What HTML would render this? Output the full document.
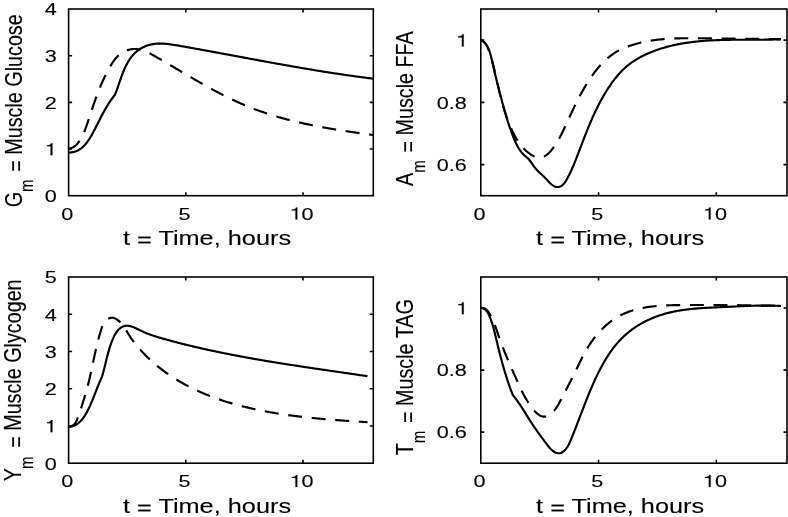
<!DOCTYPE html><html><head><meta charset="utf-8"><style>html,body{margin:0;padding:0;background:#fff;}svg{display:block;will-change:transform;}text{font-family:"Liberation Sans",sans-serif;fill:#000;stroke:#000;stroke-width:0.12px;stroke-linejoin:round;} text.tk{stroke-width:0.12px;}</style></head><body>
<svg width="788" height="517" viewBox="0 0 788 517">
<rect width="788" height="517" fill="#fff"/>
<clipPath id="c0"><rect x="68.60" y="7.00" width="304.70" height="190.70"/></clipPath>
<g clip-path="url(#c0)" fill="none" stroke="#000" stroke-width="2.15" stroke-linejoin="round">
<path d="M68.60,148.60 L69.45,148.46 L70.25,148.28 L71.03,148.06 L71.76,147.80 L72.47,147.50 L73.14,147.16 L73.79,146.79 L74.40,146.39 L74.99,145.95 L75.55,145.49 L76.09,145.01 L76.61,144.50 L77.11,143.97 L77.59,143.42 L78.05,142.85 L78.50,142.27 L78.94,141.67 L79.36,141.07 L79.77,140.45 L80.17,139.82 L80.56,139.19 L80.94,138.54 L81.31,137.89 L81.67,137.23 L82.03,136.56 L82.37,135.89 L82.71,135.21 L83.04,134.52 L83.36,133.82 L83.67,133.12 L83.98,132.42 L84.28,131.71 L84.57,130.99 L84.86,130.27 L85.15,129.55 L85.43,128.82 L85.70,128.09 L85.97,127.35 L86.24,126.61 L86.50,125.87 L86.76,125.13 L87.02,124.39 L87.27,123.65 L87.52,122.90 L87.77,122.16 L88.02,121.41 L88.27,120.67 L88.51,119.92 L88.76,119.18 L89.00,118.43 L89.25,117.69 L89.49,116.95 L89.74,116.21 L89.98,115.47 L90.22,114.73 L90.47,113.99 L90.71,113.26 L90.96,112.52 L91.20,111.79 L91.44,111.05 L91.69,110.32 L91.93,109.59 L92.18,108.85 L92.42,108.12 L92.67,107.39 L92.92,106.66 L93.17,105.94 L93.41,105.21 L93.66,104.48 L93.91,103.76 L94.16,103.03 L94.42,102.31 L94.67,101.59 L94.92,100.87 L95.18,100.15 L95.43,99.43 L95.69,98.71 L95.95,97.99 L96.21,97.27 L96.47,96.56 L96.74,95.84 L97.00,95.13 L97.27,94.42 L97.54,93.71 L97.81,92.99 L98.08,92.28 L98.35,91.58 L98.63,90.87 L98.91,90.16 L99.19,89.45 L99.47,88.75 L99.76,88.04 L100.04,87.34 L100.33,86.64 L100.62,85.94 L100.92,85.24 L101.22,84.54 L101.52,83.84 L101.82,83.14 L102.12,82.45 L102.43,81.75 L102.74,81.06 L103.06,80.36 L103.37,79.67 L103.69,78.98 L104.02,78.29 L104.34,77.60 L104.67,76.91 L105.01,76.22 L105.34,75.54 L105.68,74.85 L106.03,74.17 L106.37,73.49 L106.73,72.80 L107.08,72.12 L107.44,71.44 L107.80,70.76 L108.17,70.08 L108.54,69.41 L108.91,68.73 L109.29,68.06 L109.67,67.38 L110.06,66.71 L110.45,66.04 L110.85,65.37 L111.25,64.70 L111.66,64.04 L112.08,63.38 L112.50,62.73 L112.93,62.09 L113.37,61.45 L113.82,60.82 L114.27,60.19 L114.74,59.58 L115.22,58.98 L115.71,58.38 L116.21,57.80 L116.72,57.23 L117.24,56.67 L117.78,56.13 L118.33,55.60 L118.89,55.09 L119.47,54.59 L120.07,54.11 L120.68,53.65 L121.30,53.20 L121.94,52.77 L122.60,52.37 L123.28,51.98 L123.97,51.61 L124.67,51.27 L125.38,50.95 L126.10,50.65 L126.84,50.37 L127.58,50.11 L128.32,49.88 L129.07,49.68 L129.82,49.50 L130.58,49.34 L131.33,49.21 L132.09,49.11 L132.84,49.03 L133.59,48.98 L134.34,48.96 L135.08,48.96 L135.81,48.99 L136.55,49.04 L137.28,49.12 L138.01,49.22 L138.74,49.34 L139.46,49.48 L140.18,49.64 L140.90,49.82 L141.61,50.02 L142.32,50.23 L143.03,50.47 L143.74,50.72 L144.44,50.98 L145.15,51.26 L145.85,51.55 L146.54,51.85 L147.24,52.16 L147.94,52.49 L148.63,52.82 L149.32,53.17 L150.01,53.52 L150.70,53.88 L151.39,54.25 L152.07,54.62 L152.76,55.00 L153.44,55.38 L154.12,55.77 L154.80,56.15 L155.49,56.54 L156.17,56.93 L156.84,57.32 L157.52,57.71 L158.20,58.10 L158.88,58.50 L159.56,58.89 L160.23,59.28 L160.91,59.67 L161.59,60.06 L162.26,60.45 L162.93,60.85 L163.61,61.24 L164.28,61.63 L164.95,62.03 L165.63,62.42 L166.30,62.81 L166.97,63.20 L167.64,63.60 L168.31,63.99 L168.98,64.38 L169.65,64.78 L170.32,65.17 L170.99,65.56 L171.66,65.96 L172.33,66.35 L172.99,66.74 L173.66,67.14 L174.33,67.53 L174.99,67.92 L175.66,68.32 L176.33,68.71 L176.99,69.10 L177.66,69.50 L178.32,69.89 L178.99,70.28 L179.65,70.67 L180.32,71.06 L180.98,71.45 L181.65,71.85 L182.31,72.24 L182.97,72.63 L183.64,73.02 L184.30,73.41 L184.96,73.80 L185.63,74.19 L186.29,74.58 L186.95,74.96 L187.62,75.35 L188.28,75.74 L188.94,76.13 L189.60,76.52 L190.27,76.90 L190.93,77.29 L191.59,77.67 L192.26,78.06 L192.92,78.44 L193.58,78.83 L194.24,79.21 L194.91,79.59 L195.57,79.98 L196.23,80.36 L196.89,80.74 L197.56,81.12 L198.22,81.50 L198.88,81.88 L199.55,82.26 L200.21,82.63 L200.87,83.01 L201.54,83.39 L202.20,83.76 L202.86,84.14 L203.53,84.51 L204.19,84.88 L204.86,85.26 L205.52,85.63 L206.19,86.00 L206.85,86.37 L207.52,86.74 L208.18,87.11 L208.85,87.47 L209.52,87.84 L210.18,88.21 L210.85,88.57 L211.52,88.93 L212.19,89.30 L212.85,89.66 L213.52,90.02 L214.19,90.38 L214.86,90.74 L215.53,91.09 L216.20,91.45 L216.87,91.81 L217.54,92.16 L218.21,92.51 L218.89,92.86 L219.56,93.22 L220.23,93.57 L220.90,93.91 L221.58,94.26 L222.25,94.61 L222.93,94.95 L223.60,95.30 L224.28,95.64 L224.96,95.98 L225.63,96.32 L226.31,96.66 L226.99,96.99 L227.67,97.33 L228.35,97.66 L229.03,98.00 L229.71,98.33 L230.39,98.66 L231.07,98.99 L231.76,99.32 L232.44,99.64 L233.13,99.97 L233.81,100.29 L234.50,100.61 L235.18,100.93 L235.87,101.25 L236.56,101.57 L237.25,101.88 L237.94,102.20 L238.63,102.51 L239.32,102.82 L240.01,103.13 L240.71,103.44 L241.40,103.74 L242.09,104.05 L242.79,104.35 L243.49,104.65 L244.19,104.95 L244.88,105.25 L245.58,105.54 L246.28,105.84 L246.99,106.13 L247.69,106.42 L248.39,106.71 L249.10,106.99 L249.80,107.28 L250.51,107.56 L251.21,107.84 L251.92,108.12 L252.63,108.40 L253.34,108.67 L254.05,108.95 L254.77,109.22 L255.48,109.49 L256.20,109.76 L256.91,110.02 L257.63,110.29 L258.35,110.55 L259.07,110.81 L259.79,111.07 L260.51,111.32 L261.23,111.58 L261.95,111.83 L262.67,112.08 L263.40,112.33 L264.12,112.58 L264.85,112.83 L265.58,113.07 L266.31,113.31 L267.04,113.55 L267.77,113.79 L268.50,114.03 L269.23,114.27 L269.96,114.50 L270.69,114.73 L271.43,114.96 L272.16,115.19 L272.90,115.42 L273.64,115.64 L274.37,115.87 L275.11,116.09 L275.85,116.31 L276.59,116.53 L277.33,116.75 L278.07,116.96 L278.81,117.18 L279.55,117.39 L280.30,117.60 L281.04,117.81 L281.79,118.02 L282.53,118.22 L283.28,118.43 L284.02,118.63 L284.77,118.83 L285.52,119.03 L286.26,119.23 L287.01,119.43 L287.76,119.63 L288.51,119.82 L289.26,120.01 L290.01,120.21 L290.76,120.40 L291.52,120.58 L292.27,120.77 L293.02,120.96 L293.77,121.14 L294.53,121.33 L295.28,121.51 L296.04,121.69 L296.79,121.87 L297.55,122.05 L298.30,122.22 L299.06,122.40 L299.82,122.57 L300.57,122.75 L301.33,122.92 L302.09,123.09 L302.85,123.26 L303.60,123.43 L304.36,123.59 L305.12,123.76 L305.88,123.92 L306.64,124.09 L307.40,124.25 L308.16,124.41 L308.92,124.57 L309.68,124.73 L310.44,124.89 L311.20,125.04 L311.97,125.20 L312.73,125.35 L313.49,125.50 L314.25,125.66 L315.01,125.81 L315.77,125.96 L316.54,126.10 L317.30,126.25 L318.06,126.40 L318.82,126.54 L319.59,126.69 L320.35,126.83 L321.11,126.97 L321.88,127.12 L322.64,127.26 L323.40,127.40 L324.17,127.53 L324.93,127.67 L325.69,127.81 L326.46,127.95 L327.22,128.08 L327.98,128.21 L328.74,128.35 L329.51,128.48 L330.27,128.61 L331.03,128.74 L331.80,128.87 L332.56,129.00 L333.32,129.13 L334.08,129.26 L334.85,129.38 L335.61,129.51 L336.37,129.63 L337.13,129.76 L337.89,129.88 L338.66,130.00 L339.42,130.12 L340.18,130.25 L340.94,130.37 L341.70,130.48 L342.46,130.60 L343.22,130.72 L343.98,130.84 L344.74,130.96 L345.50,131.07 L346.26,131.19 L347.02,131.30 L347.78,131.42 L348.53,131.53 L349.29,131.64 L350.05,131.76 L350.81,131.87 L351.56,131.98 L352.32,132.09 L353.08,132.20 L353.83,132.31 L354.59,132.42 L355.34,132.53 L356.10,132.64 L356.85,132.74 L357.60,132.85 L358.36,132.96 L359.11,133.06 L359.86,133.17 L360.61,133.27 L361.36,133.38 L362.11,133.48 L362.86,133.59 L363.61,133.69 L364.36,133.79 L365.11,133.90 L365.86,134.00 L366.60,134.10 L367.35,134.20 L368.10,134.30 L368.84,134.40 L369.59,134.50 L370.33,134.60 L371.07,134.70 L371.82,134.80 L372.56,134.90 L373.30,135.00" stroke-dasharray="14 9.65"/>
<path d="M68.60,152.50 L69.18,152.51 L69.75,152.50 L70.31,152.47 L70.86,152.43 L71.41,152.38 L71.94,152.31 L72.47,152.23 L72.99,152.13 L73.51,152.02 L74.02,151.90 L74.52,151.76 L75.01,151.61 L75.49,151.45 L75.97,151.27 L76.44,151.09 L76.91,150.89 L77.36,150.68 L77.82,150.46 L78.26,150.23 L78.70,149.98 L79.13,149.73 L79.56,149.46 L79.98,149.19 L80.39,148.90 L80.80,148.61 L81.20,148.31 L81.60,147.99 L81.99,147.67 L82.37,147.34 L82.75,147.00 L83.13,146.66 L83.50,146.30 L83.86,145.94 L84.22,145.57 L84.58,145.19 L84.93,144.81 L85.27,144.42 L85.61,144.02 L85.95,143.62 L86.28,143.21 L86.61,142.80 L86.93,142.38 L87.25,141.95 L87.57,141.52 L87.88,141.09 L88.19,140.65 L88.49,140.20 L88.79,139.75 L89.09,139.30 L89.38,138.85 L89.68,138.39 L89.96,137.93 L90.25,137.47 L90.53,137.00 L90.81,136.53 L91.09,136.06 L91.36,135.59 L91.63,135.11 L91.90,134.64 L92.17,134.16 L92.43,133.69 L92.70,133.21 L92.96,132.73 L93.21,132.25 L93.47,131.78 L93.73,131.30 L93.98,130.82 L94.23,130.35 L94.48,129.87 L94.73,129.40 L94.98,128.92 L95.23,128.45 L95.47,127.97 L95.72,127.50 L95.96,127.03 L96.20,126.55 L96.44,126.08 L96.68,125.61 L96.92,125.14 L97.16,124.67 L97.40,124.20 L97.64,123.73 L97.88,123.26 L98.11,122.79 L98.35,122.32 L98.59,121.85 L98.82,121.39 L99.06,120.92 L99.29,120.45 L99.53,119.99 L99.76,119.52 L100.00,119.06 L100.24,118.59 L100.47,118.13 L100.71,117.67 L100.95,117.20 L101.18,116.74 L101.42,116.28 L101.66,115.82 L101.90,115.36 L102.14,114.90 L102.38,114.44 L102.62,113.99 L102.86,113.53 L103.11,113.07 L103.35,112.62 L103.60,112.16 L103.84,111.71 L104.09,111.25 L104.34,110.80 L104.59,110.35 L104.85,109.90 L105.10,109.44 L105.36,108.99 L105.61,108.54 L105.87,108.10 L106.13,107.65 L106.40,107.20 L106.66,106.75 L106.93,106.31 L107.20,105.86 L107.47,105.42 L107.74,104.97 L108.02,104.53 L108.29,104.09 L108.57,103.65 L108.86,103.21 L109.14,102.77 L109.43,102.33 L109.72,101.89 L110.01,101.45 L110.31,101.02 L110.61,100.58 L110.91,100.15 L111.22,99.71 L111.53,99.28 L111.84,98.85 L112.15,98.42 L112.47,97.99 L112.79,97.56 L113.12,97.13 L113.45,96.70 L113.78,96.27 L114.12,95.85 L114.46,95.42 L114.80,95.00 L114.80,95.00 L115.10,94.31 L115.39,93.61 L115.68,92.91 L115.96,92.19 L116.24,91.47 L116.52,90.75 L116.79,90.01 L117.06,89.28 L117.33,88.53 L117.59,87.78 L117.85,87.03 L118.12,86.27 L118.38,85.51 L118.64,84.74 L118.90,83.98 L119.16,83.20 L119.42,82.43 L119.68,81.65 L119.95,80.87 L120.21,80.09 L120.48,79.31 L120.75,78.53 L121.03,77.74 L121.31,76.96 L121.59,76.18 L121.88,75.39 L122.17,74.61 L122.47,73.83 L122.77,73.05 L123.08,72.27 L123.39,71.49 L123.71,70.72 L124.04,69.95 L124.37,69.19 L124.71,68.42 L125.06,67.67 L125.41,66.92 L125.77,66.17 L126.14,65.43 L126.52,64.69 L126.90,63.97 L127.30,63.25 L127.70,62.53 L128.11,61.83 L128.53,61.13 L128.95,60.44 L129.39,59.76 L129.84,59.09 L130.29,58.44 L130.76,57.79 L131.24,57.15 L131.72,56.52 L132.22,55.91 L132.73,55.31 L133.24,54.72 L133.77,54.14 L134.31,53.58 L134.87,53.03 L135.43,52.50 L136.01,51.98 L136.60,51.48 L137.20,50.99 L137.81,50.51 L138.43,50.06 L139.07,49.61 L139.71,49.19 L140.37,48.78 L141.03,48.38 L141.70,48.00 L142.39,47.64 L143.08,47.29 L143.78,46.95 L144.49,46.64 L145.21,46.33 L145.93,46.05 L146.66,45.78 L147.40,45.52 L148.14,45.28 L148.89,45.06 L149.65,44.85 L150.41,44.66 L151.17,44.48 L151.94,44.32 L152.72,44.18 L153.49,44.05 L154.27,43.93 L155.06,43.83 L155.84,43.75 L156.63,43.69 L157.43,43.63 L158.22,43.59 L159.02,43.57 L159.82,43.56 L160.62,43.56 L161.42,43.57 L162.23,43.59 L163.04,43.63 L163.84,43.67 L164.65,43.73 L165.47,43.79 L166.28,43.87 L167.09,43.95 L167.91,44.04 L168.72,44.13 L169.54,44.23 L170.36,44.34 L171.18,44.46 L172.00,44.58 L172.82,44.70 L173.64,44.83 L174.46,44.96 L175.28,45.10 L176.09,45.24 L176.91,45.38 L177.73,45.52 L178.55,45.66 L179.37,45.80 L180.19,45.95 L181.00,46.09 L181.82,46.23 L182.63,46.38 L183.45,46.52 L184.26,46.67 L185.08,46.81 L185.89,46.95 L186.70,47.10 L187.51,47.24 L188.32,47.39 L189.13,47.53 L189.94,47.67 L190.75,47.82 L191.56,47.96 L192.37,48.11 L193.18,48.25 L193.98,48.40 L194.79,48.54 L195.60,48.69 L196.40,48.83 L197.21,48.98 L198.01,49.12 L198.81,49.27 L199.62,49.41 L200.42,49.56 L201.22,49.70 L202.02,49.85 L202.82,50.00 L203.62,50.14 L204.42,50.29 L205.22,50.43 L206.02,50.58 L206.82,50.72 L207.62,50.87 L208.41,51.02 L209.21,51.16 L210.01,51.31 L210.80,51.45 L211.60,51.60 L212.39,51.75 L213.19,51.89 L213.98,52.04 L214.78,52.18 L215.57,52.33 L216.36,52.48 L217.16,52.62 L217.95,52.77 L218.74,52.91 L219.53,53.06 L220.32,53.21 L221.11,53.35 L221.90,53.50 L222.69,53.64 L223.48,53.79 L224.27,53.94 L225.06,54.08 L225.85,54.23 L226.64,54.37 L227.43,54.52 L228.21,54.67 L229.00,54.81 L229.79,54.96 L230.57,55.10 L231.36,55.25 L232.15,55.40 L232.93,55.54 L233.72,55.69 L234.50,55.83 L235.29,55.98 L236.07,56.13 L236.86,56.27 L237.64,56.42 L238.42,56.56 L239.21,56.71 L239.99,56.85 L240.77,57.00 L241.56,57.14 L242.34,57.29 L243.12,57.43 L243.90,57.58 L244.68,57.72 L245.47,57.87 L246.25,58.01 L247.03,58.16 L247.81,58.30 L248.59,58.45 L249.37,58.59 L250.15,58.74 L250.93,58.88 L251.71,59.03 L252.49,59.17 L253.27,59.31 L254.05,59.46 L254.83,59.60 L255.61,59.75 L256.39,59.89 L257.17,60.03 L257.95,60.18 L258.72,60.32 L259.50,60.46 L260.28,60.61 L261.06,60.75 L261.84,60.89 L262.62,61.03 L263.40,61.18 L264.17,61.32 L264.95,61.46 L265.73,61.60 L266.51,61.75 L267.29,61.89 L268.06,62.03 L268.84,62.17 L269.62,62.31 L270.40,62.45 L271.17,62.60 L271.95,62.74 L272.73,62.88 L273.51,63.02 L274.29,63.16 L275.06,63.30 L275.84,63.44 L276.62,63.58 L277.40,63.72 L278.17,63.86 L278.95,64.00 L279.73,64.14 L280.51,64.28 L281.28,64.42 L282.06,64.56 L282.84,64.69 L283.62,64.83 L284.40,64.97 L285.18,65.11 L285.95,65.25 L286.73,65.38 L287.51,65.52 L288.29,65.66 L289.07,65.80 L289.85,65.93 L290.62,66.07 L291.40,66.21 L292.18,66.34 L292.96,66.48 L293.74,66.62 L294.52,66.75 L295.30,66.89 L296.08,67.02 L296.86,67.16 L297.64,67.29 L298.42,67.43 L299.20,67.56 L299.98,67.69 L300.76,67.83 L301.54,67.96 L302.32,68.09 L303.11,68.23 L303.89,68.36 L304.67,68.49 L305.45,68.63 L306.23,68.76 L307.02,68.89 L307.80,69.02 L308.58,69.15 L309.36,69.28 L310.15,69.41 L310.93,69.54 L311.72,69.67 L312.50,69.80 L313.28,69.93 L314.07,70.06 L314.85,70.19 L315.64,70.32 L316.43,70.45 L317.21,70.58 L318.00,70.71 L318.78,70.83 L319.57,70.96 L320.36,71.09 L321.15,71.21 L321.93,71.34 L322.72,71.47 L323.51,71.59 L324.30,71.72 L325.09,71.84 L325.88,71.97 L326.67,72.09 L327.46,72.22 L328.25,72.34 L329.04,72.47 L329.83,72.59 L330.62,72.71 L331.42,72.83 L332.21,72.96 L333.00,73.08 L333.79,73.20 L334.59,73.32 L335.38,73.44 L336.18,73.56 L336.97,73.68 L337.77,73.80 L338.56,73.92 L339.36,74.04 L340.16,74.16 L340.96,74.28 L341.75,74.40 L342.55,74.52 L343.35,74.63 L344.15,74.75 L344.95,74.87 L345.75,74.98 L346.55,75.10 L347.35,75.21 L348.16,75.33 L348.96,75.44 L349.76,75.56 L350.56,75.67 L351.37,75.79 L352.17,75.90 L352.98,76.01 L353.78,76.12 L354.59,76.24 L355.40,76.35 L356.20,76.46 L357.01,76.57 L357.82,76.68 L358.63,76.79 L359.44,76.90 L360.25,77.01 L361.06,77.12 L361.87,77.23 L362.69,77.34 L363.50,77.44 L364.31,77.55 L365.13,77.66 L365.94,77.76 L366.76,77.87 L367.57,77.97 L368.39,78.08 L369.21,78.18 L370.02,78.29 L370.84,78.39 L371.66,78.49 L372.48,78.60 L373.30,78.70"/>
</g>
<rect x="68.60" y="9.00" width="304.70" height="186.70" fill="none" stroke="#000" stroke-width="1.60"/>
<path d="M185.80,195.70V192.20M185.80,9.00V12.50M303.00,195.70V192.20M303.00,9.00V12.50M68.60,149.02H72.10M373.30,149.02H369.80M68.60,102.35H72.10M373.30,102.35H369.80M68.60,55.68H72.10M373.30,55.68H369.80" stroke="#000" stroke-width="1.60" fill="none"/>
<text class="tk" transform="translate(61.19,219.60) scale(1.250,1)" font-size="17.30">0</text>
<text class="tk" transform="translate(178.39,219.60) scale(1.250,1)" font-size="17.30">5</text>
<path transform="translate(289.58,219.60) scale(0.02162,-0.01730)" d="M359,0V703H296C284,650 253,613 198,596C170,588 135,585 101,585V520H271V0Z" fill="#000" stroke="#000" stroke-width="6.9" stroke-linejoin="round"/><text class="tk" transform="translate(301.60,219.60) scale(1.250,1)" font-size="17.30">0</text>
<text class="tk" transform="translate(44.68,202.00) scale(1.250,1)" font-size="17.30">0</text>
<path transform="translate(44.68,155.32) scale(0.02162,-0.01730)" d="M359,0V703H296C284,650 253,613 198,596C170,588 135,585 101,585V520H271V0Z" fill="#000" stroke="#000" stroke-width="6.9" stroke-linejoin="round"/>
<text class="tk" transform="translate(44.68,108.65) scale(1.250,1)" font-size="17.30">2</text>
<text class="tk" transform="translate(44.68,61.98) scale(1.250,1)" font-size="17.30">3</text>
<text class="tk" transform="translate(44.68,15.30) scale(1.250,1)" font-size="17.30">4</text>
<text transform="translate(123.00,244.85) scale(1.282,1)" font-size="19.75">t <tspan dy="2.30">=</tspan><tspan dy="-2.30"> Time, hours</tspan></text>
<g transform="translate(21.50,207.30) scale(1.250,1) rotate(-90)">
<text x="0" y="0" font-size="19.75">G</text>
<text x="15.36" y="9.45" font-size="15.00">m</text>
<text x="35.56" y="0" font-size="19.75"><tspan dy="2.00">=</tspan><tspan dy="-2.00"> Muscle Glucose</tspan></text>
</g>
<clipPath id="c1"><rect x="480.80" y="7.00" width="306.20" height="190.70"/></clipPath>
<g clip-path="url(#c1)" fill="none" stroke="#000" stroke-width="2.15" stroke-linejoin="round">
<path d="M480.80,40.10 L481.64,40.42 L482.41,40.81 L483.12,41.26 L483.78,41.76 L484.39,42.32 L484.95,42.93 L485.47,43.58 L485.95,44.27 L486.39,44.99 L486.81,45.74 L487.19,46.51 L487.56,47.30 L487.90,48.11 L488.23,48.93 L488.55,49.75 L488.87,50.58 L489.17,51.41 L489.47,52.24 L489.76,53.07 L490.04,53.91 L490.32,54.75 L490.59,55.58 L490.85,56.43 L491.11,57.27 L491.36,58.12 L491.61,58.96 L491.85,59.81 L492.09,60.66 L492.32,61.51 L492.55,62.37 L492.77,63.22 L492.99,64.07 L493.20,64.93 L493.42,65.79 L493.62,66.65 L493.83,67.51 L494.03,68.37 L494.23,69.23 L494.43,70.09 L494.63,70.95 L494.83,71.81 L495.02,72.67 L495.21,73.54 L495.40,74.40 L495.60,75.26 L495.79,76.12 L495.98,76.99 L496.17,77.85 L496.36,78.71 L496.55,79.57 L496.74,80.43 L496.93,81.30 L497.13,82.16 L497.32,83.02 L497.51,83.88 L497.70,84.74 L497.90,85.60 L498.10,86.46 L498.29,87.32 L498.49,88.17 L498.69,89.03 L498.89,89.89 L499.09,90.74 L499.29,91.60 L499.50,92.46 L499.70,93.31 L499.91,94.16 L500.12,95.02 L500.33,95.87 L500.55,96.72 L500.76,97.57 L500.98,98.42 L501.20,99.27 L501.42,100.12 L501.65,100.97 L501.87,101.81 L502.10,102.66 L502.34,103.50 L502.57,104.34 L502.81,105.19 L503.05,106.03 L503.30,106.87 L503.54,107.71 L503.79,108.54 L504.05,109.38 L504.31,110.21 L504.57,111.05 L504.83,111.88 L505.10,112.71 L505.37,113.54 L505.65,114.37 L505.93,115.20 L506.21,116.02 L506.50,116.85 L506.79,117.67 L507.09,118.49 L507.39,119.31 L507.70,120.13 L508.01,120.95 L508.32,121.76 L508.64,122.57 L508.97,123.38 L509.30,124.19 L509.63,125.00 L509.97,125.81 L510.32,126.61 L510.67,127.41 L511.03,128.22 L511.39,129.01 L511.75,129.81 L512.13,130.61 L512.51,131.40 L512.89,132.19 L513.28,132.98 L513.68,133.76 L514.08,134.55 L514.49,135.33 L514.91,136.10 L515.34,136.88 L515.77,137.65 L516.22,138.41 L516.67,139.17 L517.13,139.92 L517.60,140.67 L518.08,141.41 L518.58,142.14 L519.08,142.86 L519.59,143.58 L520.12,144.29 L520.66,145.00 L521.21,145.69 L521.77,146.37 L522.35,147.05 L522.94,147.71 L523.55,148.36 L524.17,149.01 L524.80,149.64 L525.45,150.26 L526.11,150.87 L526.79,151.46 L527.49,152.04 L528.20,152.61 L528.93,153.17 L529.68,153.71 L530.44,154.23 L531.22,154.73 L532.01,155.21 L532.81,155.66 L533.61,156.07 L534.42,156.44 L535.23,156.77 L536.04,157.05 L536.85,157.28 L537.66,157.45 L538.46,157.57 L539.25,157.62 L540.03,157.61 L540.80,157.53 L541.56,157.39 L542.31,157.19 L543.05,156.93 L543.78,156.62 L544.50,156.26 L545.21,155.86 L545.91,155.41 L546.59,154.92 L547.26,154.39 L547.92,153.83 L548.57,153.24 L549.21,152.62 L549.84,151.97 L550.45,151.30 L551.06,150.61 L551.65,149.90 L552.23,149.18 L552.79,148.45 L553.35,147.71 L553.89,146.97 L554.42,146.22 L554.93,145.47 L555.44,144.72 L555.93,143.97 L556.41,143.21 L556.89,142.45 L557.35,141.69 L557.80,140.93 L558.25,140.16 L558.69,139.39 L559.12,138.62 L559.54,137.85 L559.95,137.08 L560.36,136.31 L560.77,135.53 L561.16,134.75 L561.56,133.97 L561.94,133.19 L562.33,132.41 L562.71,131.62 L563.09,130.84 L563.46,130.05 L563.83,129.27 L564.20,128.48 L564.57,127.69 L564.94,126.90 L565.31,126.11 L565.68,125.32 L566.05,124.53 L566.42,123.73 L566.78,122.94 L567.15,122.15 L567.52,121.36 L567.89,120.56 L568.25,119.77 L568.62,118.97 L568.99,118.18 L569.36,117.39 L569.73,116.59 L570.10,115.80 L570.47,115.00 L570.84,114.21 L571.21,113.41 L571.59,112.62 L571.96,111.83 L572.34,111.03 L572.71,110.24 L573.09,109.45 L573.47,108.65 L573.85,107.86 L574.23,107.07 L574.61,106.28 L575.00,105.49 L575.38,104.70 L575.77,103.91 L576.16,103.13 L576.55,102.34 L576.95,101.55 L577.34,100.77 L577.74,99.98 L578.14,99.20 L578.54,98.42 L578.95,97.64 L579.35,96.86 L579.76,96.08 L580.17,95.31 L580.59,94.53 L581.01,93.76 L581.43,92.99 L581.85,92.22 L582.28,91.45 L582.71,90.68 L583.14,89.92 L583.57,89.15 L584.01,88.39 L584.46,87.63 L584.90,86.88 L585.35,86.12 L585.80,85.37 L586.26,84.62 L586.72,83.87 L587.18,83.12 L587.65,82.37 L588.12,81.63 L588.60,80.89 L589.08,80.15 L589.56,79.42 L590.05,78.69 L590.54,77.96 L591.04,77.23 L591.54,76.51 L592.05,75.78 L592.56,75.06 L593.08,74.35 L593.60,73.64 L594.12,72.93 L594.65,72.22 L595.19,71.52 L595.73,70.83 L596.28,70.13 L596.83,69.45 L597.38,68.76 L597.94,68.08 L598.51,67.41 L599.09,66.75 L599.66,66.08 L600.25,65.43 L600.84,64.78 L601.43,64.13 L602.04,63.50 L602.64,62.87 L603.26,62.24 L603.88,61.63 L604.51,61.02 L605.14,60.41 L605.78,59.82 L606.42,59.23 L607.08,58.65 L607.74,58.08 L608.40,57.52 L609.08,56.97 L609.75,56.42 L610.44,55.89 L611.14,55.36 L611.84,54.84 L612.54,54.34 L613.26,53.84 L613.98,53.35 L614.71,52.88 L615.45,52.41 L616.20,51.95 L616.95,51.51 L617.71,51.07 L618.48,50.65 L619.25,50.24 L620.04,49.84 L620.83,49.45 L621.62,49.07 L622.43,48.70 L623.24,48.34 L624.05,47.99 L624.87,47.65 L625.69,47.32 L626.51,47.00 L627.34,46.68 L628.18,46.37 L629.01,46.08 L629.85,45.79 L630.68,45.50 L631.52,45.23 L632.36,44.96 L633.20,44.69 L634.04,44.44 L634.89,44.19 L635.73,43.94 L636.58,43.71 L637.42,43.48 L638.27,43.26 L639.12,43.04 L639.97,42.83 L640.82,42.62 L641.67,42.42 L642.53,42.23 L643.38,42.04 L644.24,41.86 L645.09,41.69 L645.95,41.52 L646.81,41.35 L647.66,41.19 L648.52,41.04 L649.38,40.89 L650.24,40.75 L651.11,40.61 L651.97,40.48 L652.83,40.35 L653.70,40.23 L654.56,40.11 L655.43,39.99 L656.30,39.88 L657.16,39.78 L658.03,39.68 L658.90,39.58 L659.77,39.49 L660.64,39.40 L661.51,39.31 L662.38,39.23 L663.25,39.16 L664.12,39.08 L665.00,39.02 L665.87,38.95 L666.75,38.89 L667.62,38.83 L668.49,38.77 L669.37,38.72 L670.25,38.67 L671.12,38.63 L672.00,38.58 L672.88,38.54 L673.75,38.51 L674.63,38.47 L675.51,38.44 L676.39,38.41 L677.27,38.38 L678.15,38.36 L679.03,38.34 L679.91,38.32 L680.79,38.30 L681.67,38.28 L682.55,38.27 L683.43,38.26 L684.31,38.25 L685.19,38.24 L686.07,38.23 L686.95,38.23 L687.83,38.22 L688.72,38.22 L689.60,38.22 L690.48,38.22 L691.36,38.22 L692.24,38.22 L693.13,38.22 L694.01,38.22 L694.89,38.23 L695.77,38.23 L696.65,38.24 L697.53,38.24 L698.42,38.25 L699.30,38.26 L700.18,38.26 L701.06,38.27 L701.94,38.28 L702.82,38.28 L703.70,38.29 L704.58,38.30 L705.46,38.31 L706.34,38.31 L707.22,38.32 L708.10,38.33 L708.98,38.34 L709.86,38.34 L710.74,38.35 L711.62,38.36 L712.50,38.37 L713.38,38.38 L714.26,38.38 L715.14,38.39 L716.02,38.40 L716.90,38.41 L717.78,38.42 L718.66,38.43 L719.54,38.44 L720.42,38.45 L721.29,38.45 L722.17,38.46 L723.05,38.47 L723.93,38.48 L724.81,38.49 L725.69,38.50 L726.56,38.51 L727.44,38.52 L728.32,38.53 L729.20,38.54 L730.08,38.55 L730.96,38.56 L731.83,38.57 L732.71,38.58 L733.59,38.59 L734.47,38.60 L735.34,38.61 L736.22,38.62 L737.10,38.63 L737.98,38.64 L738.86,38.65 L739.73,38.66 L740.61,38.67 L741.49,38.68 L742.37,38.69 L743.24,38.70 L744.12,38.71 L745.00,38.72 L745.88,38.73 L746.75,38.74 L747.63,38.75 L748.51,38.76 L749.39,38.77 L750.26,38.78 L751.14,38.79 L752.02,38.80 L752.90,38.81 L753.77,38.82 L754.65,38.83 L755.53,38.84 L756.41,38.85 L757.28,38.86 L758.16,38.87 L759.04,38.88 L759.92,38.89 L760.80,38.89 L761.67,38.90 L762.55,38.91 L763.43,38.92 L764.31,38.93 L765.18,38.94 L766.06,38.95 L766.94,38.96 L767.82,38.97 L768.70,38.98 L769.58,38.99 L770.45,39.00 L771.33,39.01 L772.21,39.02 L773.09,39.02 L773.97,39.03 L774.85,39.04 L775.73,39.05 L776.60,39.06 L777.48,39.07 L778.36,39.08 L779.24,39.08 L780.12,39.09 L781.00,39.10" stroke-dasharray="14 9.65"/>
<path d="M480.80,40.10 L481.69,40.46 L482.50,40.91 L483.25,41.45 L483.94,42.04 L484.58,42.68 L485.18,43.35 L485.75,44.05 L486.29,44.78 L486.79,45.53 L487.26,46.31 L487.70,47.10 L488.11,47.92 L488.50,48.76 L488.86,49.62 L489.20,50.49 L489.52,51.38 L489.82,52.28 L490.11,53.20 L490.38,54.12 L490.63,55.06 L490.88,56.00 L491.11,56.94 L491.34,57.90 L491.56,58.85 L491.78,59.81 L491.99,60.76 L492.21,61.72 L492.42,62.67 L492.64,63.62 L492.85,64.57 L493.07,65.51 L493.28,66.46 L493.50,67.40 L493.72,68.34 L493.94,69.27 L494.16,70.21 L494.38,71.14 L494.60,72.07 L494.82,73.00 L495.04,73.93 L495.26,74.86 L495.49,75.78 L495.71,76.70 L495.94,77.63 L496.16,78.55 L496.39,79.46 L496.62,80.38 L496.84,81.30 L497.07,82.22 L497.30,83.13 L497.53,84.04 L497.76,84.96 L497.99,85.87 L498.23,86.78 L498.46,87.69 L498.69,88.60 L498.93,89.51 L499.16,90.42 L499.40,91.33 L499.64,92.24 L499.88,93.15 L500.12,94.06 L500.36,94.97 L500.60,95.88 L500.84,96.78 L501.08,97.69 L501.32,98.60 L501.57,99.51 L501.81,100.42 L502.06,101.33 L502.30,102.24 L502.55,103.16 L502.80,104.07 L503.05,104.98 L503.30,105.89 L503.55,106.81 L503.80,107.72 L504.06,108.64 L504.31,109.56 L504.57,110.47 L504.83,111.39 L505.09,112.31 L505.35,113.22 L505.61,114.14 L505.88,115.05 L506.15,115.97 L506.42,116.89 L506.69,117.80 L506.97,118.72 L507.24,119.63 L507.53,120.54 L507.81,121.46 L508.10,122.37 L508.39,123.28 L508.68,124.19 L508.98,125.09 L509.28,126.00 L509.58,126.91 L509.89,127.81 L510.20,128.71 L510.51,129.61 L510.83,130.51 L511.16,131.41 L511.49,132.30 L511.82,133.19 L512.15,134.08 L512.50,134.97 L512.84,135.85 L513.19,136.74 L513.55,137.62 L513.91,138.49 L514.28,139.37 L514.65,140.24 L515.03,141.10 L515.42,141.97 L515.81,142.82 L516.22,143.68 L516.63,144.52 L517.06,145.36 L517.50,146.18 L517.95,147.00 L518.42,147.81 L518.91,148.61 L519.42,149.39 L519.94,150.16 L520.48,150.92 L521.04,151.67 L521.63,152.40 L522.24,153.11 L522.87,153.81 L523.52,154.49 L524.21,155.15 L524.91,155.80 L525.64,156.43 L526.36,157.07 L527.09,157.71 L527.80,158.36 L528.50,159.04 L529.16,159.74 L529.79,160.47 L530.39,161.23 L530.96,162.02 L531.51,162.82 L532.05,163.62 L532.59,164.43 L533.12,165.22 L533.66,166.01 L534.21,166.77 L534.78,167.51 L535.37,168.23 L535.97,168.93 L536.59,169.61 L537.22,170.27 L537.86,170.93 L538.51,171.57 L539.17,172.21 L539.83,172.85 L540.51,173.48 L541.19,174.12 L541.87,174.76 L542.56,175.41 L543.25,176.06 L543.94,176.73 L544.63,177.42 L545.32,178.12 L546.00,178.85 L546.69,179.59 L547.37,180.34 L548.06,181.09 L548.75,181.83 L549.45,182.55 L550.16,183.25 L550.88,183.91 L551.62,184.53 L552.37,185.10 L553.15,185.61 L553.94,186.06 L554.76,186.42 L555.60,186.71 L556.46,186.89 L557.32,186.97 L558.19,186.95 L559.03,186.82 L559.86,186.58 L560.65,186.26 L561.40,185.84 L562.12,185.34 L562.80,184.77 L563.45,184.13 L564.07,183.43 L564.67,182.68 L565.24,181.89 L565.79,181.06 L566.31,180.20 L566.82,179.32 L567.32,178.42 L567.80,177.52 L568.27,176.62 L568.73,175.73 L569.18,174.84 L569.62,173.95 L570.05,173.06 L570.48,172.17 L570.89,171.29 L571.30,170.41 L571.70,169.53 L572.09,168.66 L572.47,167.78 L572.85,166.91 L573.22,166.03 L573.59,165.16 L573.95,164.29 L574.31,163.42 L574.67,162.55 L575.02,161.68 L575.36,160.81 L575.71,159.94 L576.05,159.08 L576.39,158.21 L576.72,157.34 L577.06,156.47 L577.39,155.59 L577.73,154.72 L578.06,153.85 L578.39,152.97 L578.73,152.10 L579.06,151.22 L579.40,150.35 L579.73,149.47 L580.07,148.59 L580.40,147.71 L580.74,146.83 L581.07,145.95 L581.41,145.07 L581.75,144.18 L582.08,143.30 L582.42,142.42 L582.76,141.54 L583.10,140.65 L583.44,139.77 L583.79,138.88 L584.13,138.00 L584.47,137.12 L584.82,136.23 L585.17,135.35 L585.51,134.46 L585.86,133.58 L586.22,132.70 L586.57,131.81 L586.92,130.93 L587.28,130.05 L587.64,129.17 L588.00,128.28 L588.36,127.40 L588.72,126.52 L589.09,125.64 L589.45,124.76 L589.82,123.89 L590.19,123.01 L590.57,122.13 L590.94,121.26 L591.32,120.38 L591.70,119.51 L592.09,118.63 L592.47,117.76 L592.86,116.89 L593.25,116.02 L593.64,115.16 L594.04,114.29 L594.44,113.43 L594.84,112.56 L595.25,111.70 L595.66,110.84 L596.07,109.98 L596.48,109.13 L596.90,108.27 L597.32,107.42 L597.75,106.57 L598.17,105.72 L598.61,104.87 L599.04,104.03 L599.48,103.19 L599.92,102.35 L600.37,101.51 L600.82,100.67 L601.27,99.84 L601.73,99.01 L602.19,98.18 L602.66,97.35 L603.13,96.53 L603.60,95.71 L604.08,94.89 L604.56,94.07 L605.05,93.26 L605.54,92.45 L606.04,91.64 L606.54,90.84 L607.05,90.04 L607.56,89.24 L608.07,88.45 L608.59,87.66 L609.12,86.87 L609.65,86.08 L610.18,85.30 L610.72,84.52 L611.27,83.75 L611.82,82.98 L612.37,82.21 L612.93,81.45 L613.50,80.69 L614.07,79.94 L614.65,79.19 L615.24,78.44 L615.83,77.71 L616.43,76.97 L617.03,76.25 L617.64,75.52 L618.26,74.81 L618.88,74.10 L619.51,73.40 L620.15,72.70 L620.80,72.02 L621.45,71.34 L622.11,70.66 L622.77,70.00 L623.45,69.34 L624.13,68.69 L624.82,68.05 L625.52,67.42 L626.23,66.79 L626.94,66.18 L627.67,65.58 L628.40,64.98 L629.14,64.39 L629.89,63.82 L630.65,63.25 L631.41,62.70 L632.19,62.15 L632.97,61.62 L633.76,61.09 L634.56,60.57 L635.36,60.06 L636.17,59.57 L636.99,59.08 L637.81,58.60 L638.64,58.12 L639.47,57.66 L640.31,57.20 L641.16,56.76 L642.00,56.32 L642.86,55.89 L643.71,55.47 L644.57,55.05 L645.43,54.64 L646.30,54.24 L647.17,53.85 L648.04,53.47 L648.91,53.09 L649.78,52.72 L650.66,52.35 L651.53,51.99 L652.41,51.64 L653.29,51.30 L654.18,50.96 L655.06,50.63 L655.95,50.31 L656.84,49.99 L657.73,49.68 L658.62,49.38 L659.51,49.08 L660.41,48.78 L661.30,48.50 L662.20,48.22 L663.10,47.94 L664.00,47.68 L664.91,47.41 L665.81,47.16 L666.72,46.91 L667.62,46.66 L668.53,46.42 L669.44,46.19 L670.36,45.96 L671.27,45.74 L672.18,45.52 L673.10,45.31 L674.02,45.10 L674.94,44.90 L675.86,44.71 L676.78,44.51 L677.70,44.33 L678.63,44.15 L679.55,43.97 L680.48,43.80 L681.40,43.63 L682.33,43.47 L683.26,43.31 L684.19,43.16 L685.13,43.01 L686.06,42.86 L686.99,42.72 L687.93,42.59 L688.86,42.46 L689.80,42.33 L690.74,42.20 L691.68,42.09 L692.62,41.97 L693.56,41.86 L694.50,41.75 L695.44,41.65 L696.39,41.54 L697.33,41.45 L698.27,41.35 L699.22,41.26 L700.17,41.18 L701.11,41.09 L702.06,41.01 L703.01,40.94 L703.96,40.86 L704.91,40.79 L705.86,40.73 L706.81,40.66 L707.76,40.60 L708.71,40.54 L709.67,40.48 L710.62,40.43 L711.57,40.38 L712.53,40.33 L713.48,40.29 L714.44,40.24 L715.39,40.20 L716.35,40.16 L717.30,40.13 L718.26,40.09 L719.22,40.06 L720.17,40.03 L721.13,40.00 L722.09,39.97 L723.04,39.95 L724.00,39.93 L724.96,39.91 L725.92,39.89 L726.88,39.87 L727.83,39.85 L728.79,39.84 L729.75,39.82 L730.71,39.81 L731.67,39.80 L732.63,39.79 L733.59,39.78 L734.54,39.77 L735.50,39.77 L736.46,39.76 L737.42,39.76 L738.38,39.75 L739.33,39.75 L740.29,39.75 L741.25,39.74 L742.21,39.74 L743.16,39.74 L744.12,39.74 L745.08,39.74 L746.03,39.74 L746.99,39.74 L747.94,39.74 L748.90,39.74 L749.85,39.74 L750.81,39.74 L751.76,39.74 L752.72,39.74 L753.67,39.74 L754.62,39.73 L755.57,39.73 L756.53,39.73 L757.48,39.73 L758.43,39.72 L759.38,39.72 L760.32,39.72 L761.27,39.71 L762.22,39.71 L763.17,39.70 L764.11,39.69 L765.06,39.68 L766.00,39.67 L766.95,39.66 L767.89,39.65 L768.83,39.63 L769.78,39.62 L770.72,39.60 L771.66,39.58 L772.59,39.56 L773.53,39.54 L774.47,39.52 L775.41,39.49 L776.34,39.46 L777.27,39.44 L778.21,39.40 L779.14,39.37 L780.07,39.34 L781.00,39.30"/>
</g>
<rect x="480.80" y="9.00" width="306.20" height="186.70" fill="none" stroke="#000" stroke-width="1.60"/>
<path d="M598.55,195.70V192.20M598.55,9.00V12.50M716.30,195.70V192.20M716.30,9.00V12.50M480.80,164.58H484.30M787.00,164.58H783.50M480.80,102.35H484.30M787.00,102.35H783.50M480.80,40.12H484.30M787.00,40.12H783.50" stroke="#000" stroke-width="1.60" fill="none"/>
<text class="tk" transform="translate(473.39,219.60) scale(1.250,1)" font-size="17.30">0</text>
<text class="tk" transform="translate(591.14,219.60) scale(1.250,1)" font-size="17.30">5</text>
<path transform="translate(702.88,219.60) scale(0.02162,-0.01730)" d="M359,0V703H296C284,650 253,613 198,596C170,588 135,585 101,585V520H271V0Z" fill="#000" stroke="#000" stroke-width="6.9" stroke-linejoin="round"/><text class="tk" transform="translate(714.90,219.60) scale(1.250,1)" font-size="17.30">0</text>
<text class="tk" transform="translate(436.64,170.88) scale(1.250,1)" font-size="17.30">0</text><text class="tk" transform="translate(448.66,170.88) scale(1.250,1)" font-size="17.30">.</text><text class="tk" transform="translate(454.68,170.88) scale(1.250,1)" font-size="17.30">6</text>
<text class="tk" transform="translate(436.64,108.65) scale(1.250,1)" font-size="17.30">0</text><text class="tk" transform="translate(448.66,108.65) scale(1.250,1)" font-size="17.30">.</text><text class="tk" transform="translate(454.68,108.65) scale(1.250,1)" font-size="17.30">8</text>
<path transform="translate(455.98,46.42) scale(0.02162,-0.01730)" d="M359,0V703H296C284,650 253,613 198,596C170,588 135,585 101,585V520H271V0Z" fill="#000" stroke="#000" stroke-width="6.9" stroke-linejoin="round"/>
<text transform="translate(536.10,244.85) scale(1.282,1)" font-size="19.75">t <tspan dy="2.30">=</tspan><tspan dy="-2.30"> Time, hours</tspan></text>
<g transform="translate(413.40,185.90) scale(1.250,1) rotate(-90)">
<text x="0" y="0" font-size="19.75">A</text>
<text x="13.17" y="9.45" font-size="15.00">m</text>
<text x="33.37" y="0" font-size="19.75"><tspan dy="2.00">=</tspan><tspan dy="-2.00"> Muscle FFA</tspan></text>
</g>
<clipPath id="c2"><rect x="68.60" y="275.00" width="304.70" height="190.20"/></clipPath>
<g clip-path="url(#c2)" fill="none" stroke="#000" stroke-width="2.15" stroke-linejoin="round">
<path d="M68.60,426.60 L69.60,426.51 L70.52,426.33 L71.36,426.09 L72.13,425.77 L72.83,425.39 L73.47,424.96 L74.05,424.46 L74.58,423.92 L75.06,423.33 L75.50,422.70 L75.90,422.04 L76.27,421.35 L76.61,420.62 L76.93,419.88 L77.23,419.12 L77.52,418.35 L77.80,417.57 L78.08,416.79 L78.36,416.01 L78.63,415.23 L78.91,414.44 L79.18,413.66 L79.45,412.87 L79.72,412.08 L79.99,411.30 L80.26,410.51 L80.53,409.72 L80.79,408.93 L81.06,408.14 L81.32,407.35 L81.58,406.56 L81.84,405.76 L82.10,404.97 L82.36,404.18 L82.61,403.38 L82.86,402.59 L83.11,401.80 L83.36,401.00 L83.61,400.21 L83.86,399.41 L84.10,398.61 L84.35,397.82 L84.59,397.02 L84.83,396.22 L85.06,395.43 L85.30,394.63 L85.53,393.83 L85.76,393.04 L85.99,392.24 L86.22,391.44 L86.44,390.64 L86.66,389.85 L86.88,389.05 L87.10,388.25 L87.32,387.46 L87.53,386.66 L87.74,385.86 L87.95,385.07 L88.15,384.27 L88.36,383.47 L88.56,382.68 L88.76,381.88 L88.95,381.09 L89.15,380.29 L89.34,379.50 L89.53,378.70 L89.71,377.91 L89.90,377.11 L90.08,376.32 L90.26,375.53 L90.44,374.73 L90.62,373.94 L90.80,373.15 L90.97,372.35 L91.14,371.56 L91.32,370.77 L91.49,369.97 L91.66,369.18 L91.83,368.39 L92.00,367.59 L92.17,366.80 L92.33,366.01 L92.50,365.21 L92.67,364.42 L92.84,363.62 L93.00,362.83 L93.17,362.03 L93.34,361.24 L93.50,360.44 L93.67,359.65 L93.84,358.85 L94.01,358.06 L94.18,357.26 L94.35,356.46 L94.52,355.66 L94.69,354.86 L94.86,354.07 L95.04,353.27 L95.21,352.47 L95.39,351.67 L95.57,350.87 L95.75,350.06 L95.93,349.26 L96.12,348.46 L96.30,347.65 L96.49,346.85 L96.68,346.04 L96.87,345.24 L97.07,344.43 L97.27,343.62 L97.47,342.81 L97.67,342.01 L97.88,341.19 L98.08,340.38 L98.30,339.57 L98.51,338.76 L98.73,337.94 L98.95,337.13 L99.18,336.31 L99.40,335.49 L99.64,334.68 L99.87,333.86 L100.11,333.03 L100.36,332.21 L100.60,331.39 L100.86,330.57 L101.12,329.74 L101.38,328.92 L101.66,328.11 L101.95,327.31 L102.26,326.52 L102.58,325.74 L102.92,324.99 L103.28,324.25 L103.66,323.54 L104.07,322.85 L104.50,322.19 L104.96,321.56 L105.46,320.97 L105.99,320.41 L106.55,319.89 L107.15,319.42 L107.79,318.99 L108.47,318.61 L109.19,318.28 L109.95,318.01 L110.73,317.81 L111.52,317.71 L112.32,317.71 L113.11,317.81 L113.88,318.02 L114.64,318.30 L115.38,318.65 L116.10,319.04 L116.79,319.45 L117.45,319.90 L118.09,320.37 L118.71,320.86 L119.31,321.38 L119.90,321.92 L120.46,322.48 L121.00,323.06 L121.53,323.66 L122.05,324.28 L122.55,324.92 L123.04,325.56 L123.52,326.23 L123.99,326.90 L124.45,327.59 L124.91,328.28 L125.35,328.98 L125.80,329.69 L126.24,330.41 L126.67,331.13 L127.11,331.85 L127.54,332.58 L127.98,333.30 L128.42,334.03 L128.86,334.75 L129.31,335.47 L129.76,336.19 L130.22,336.90 L130.69,337.60 L131.16,338.30 L131.64,339.00 L132.12,339.69 L132.61,340.37 L133.11,341.05 L133.61,341.72 L134.12,342.39 L134.64,343.06 L135.15,343.72 L135.68,344.37 L136.20,345.02 L136.74,345.67 L137.27,346.31 L137.81,346.95 L138.36,347.58 L138.90,348.21 L139.45,348.83 L140.01,349.45 L140.56,350.07 L141.12,350.68 L141.69,351.29 L142.25,351.90 L142.82,352.50 L143.39,353.10 L143.96,353.70 L144.54,354.29 L145.12,354.87 L145.70,355.46 L146.28,356.04 L146.87,356.62 L147.45,357.19 L148.04,357.76 L148.64,358.33 L149.23,358.89 L149.83,359.45 L150.43,360.00 L151.03,360.55 L151.64,361.10 L152.25,361.65 L152.86,362.19 L153.47,362.73 L154.08,363.26 L154.70,363.79 L155.32,364.32 L155.94,364.85 L156.57,365.37 L157.19,365.88 L157.82,366.40 L158.45,366.91 L159.09,367.42 L159.72,367.92 L160.36,368.42 L161.00,368.92 L161.64,369.41 L162.29,369.91 L162.94,370.39 L163.58,370.88 L164.24,371.36 L164.89,371.84 L165.54,372.31 L166.20,372.78 L166.86,373.25 L167.52,373.72 L168.19,374.18 L168.85,374.64 L169.52,375.09 L170.19,375.55 L170.86,376.00 L171.54,376.44 L172.21,376.88 L172.89,377.32 L173.57,377.76 L174.25,378.20 L174.94,378.63 L175.62,379.05 L176.31,379.48 L177.00,379.90 L177.69,380.32 L178.39,380.74 L179.08,381.15 L179.78,381.56 L180.48,381.97 L181.18,382.37 L181.88,382.77 L182.59,383.17 L183.29,383.56 L184.00,383.96 L184.71,384.34 L185.42,384.73 L186.14,385.12 L186.85,385.50 L187.57,385.87 L188.29,386.25 L189.01,386.62 L189.73,386.99 L190.46,387.36 L191.18,387.72 L191.91,388.08 L192.64,388.44 L193.37,388.80 L194.10,389.15 L194.83,389.50 L195.57,389.85 L196.31,390.19 L197.05,390.53 L197.79,390.87 L198.53,391.21 L199.27,391.55 L200.01,391.88 L200.76,392.21 L201.51,392.53 L202.26,392.86 L203.01,393.18 L203.76,393.50 L204.51,393.81 L205.27,394.13 L206.02,394.44 L206.78,394.75 L207.54,395.05 L208.30,395.35 L209.06,395.66 L209.83,395.95 L210.59,396.25 L211.36,396.54 L212.12,396.84 L212.89,397.12 L213.66,397.41 L214.43,397.69 L215.20,397.98 L215.98,398.25 L216.75,398.53 L217.53,398.81 L218.31,399.08 L219.08,399.35 L219.86,399.62 L220.64,399.88 L221.43,400.14 L222.21,400.40 L222.99,400.66 L223.78,400.92 L224.56,401.17 L225.35,401.42 L226.14,401.67 L226.93,401.92 L227.72,402.17 L228.51,402.41 L229.30,402.65 L230.10,402.89 L230.89,403.13 L231.69,403.36 L232.48,403.59 L233.28,403.82 L234.08,404.05 L234.88,404.28 L235.68,404.50 L236.48,404.72 L237.28,404.94 L238.09,405.16 L238.89,405.37 L239.69,405.59 L240.50,405.80 L241.31,406.01 L242.11,406.22 L242.92,406.42 L243.73,406.63 L244.54,406.83 L245.35,407.03 L246.16,407.23 L246.97,407.42 L247.79,407.62 L248.60,407.81 L249.41,408.00 L250.23,408.19 L251.04,408.38 L251.86,408.56 L252.68,408.74 L253.49,408.93 L254.31,409.11 L255.13,409.28 L255.95,409.46 L256.77,409.63 L257.59,409.81 L258.41,409.98 L259.23,410.15 L260.05,410.31 L260.88,410.48 L261.70,410.64 L262.52,410.81 L263.35,410.97 L264.17,411.13 L265.00,411.28 L265.82,411.44 L266.65,411.59 L267.48,411.75 L268.30,411.90 L269.13,412.05 L269.96,412.19 L270.78,412.34 L271.61,412.49 L272.44,412.63 L273.27,412.77 L274.10,412.91 L274.93,413.05 L275.76,413.19 L276.59,413.32 L277.42,413.46 L278.25,413.59 L279.08,413.72 L279.91,413.85 L280.74,413.98 L281.58,414.11 L282.41,414.24 L283.24,414.36 L284.07,414.48 L284.90,414.61 L285.74,414.73 L286.57,414.85 L287.40,414.96 L288.23,415.08 L289.07,415.20 L289.90,415.31 L290.73,415.42 L291.57,415.54 L292.40,415.65 L293.23,415.76 L294.06,415.86 L294.90,415.97 L295.73,416.08 L296.56,416.18 L297.40,416.28 L298.23,416.39 L299.06,416.49 L299.90,416.59 L300.73,416.69 L301.56,416.78 L302.39,416.88 L303.23,416.98 L304.06,417.07 L304.89,417.17 L305.72,417.26 L306.55,417.35 L307.39,417.44 L308.22,417.53 L309.05,417.62 L309.88,417.71 L310.71,417.79 L311.54,417.88 L312.37,417.96 L313.20,418.05 L314.03,418.13 L314.86,418.21 L315.69,418.29 L316.52,418.37 L317.35,418.45 L318.17,418.53 L319.00,418.61 L319.83,418.69 L320.66,418.76 L321.48,418.84 L322.31,418.91 L323.13,418.98 L323.96,419.06 L324.78,419.13 L325.61,419.20 L326.43,419.27 L327.25,419.34 L328.08,419.41 L328.90,419.48 L329.72,419.55 L330.54,419.62 L331.36,419.68 L332.18,419.75 L333.00,419.81 L333.82,419.88 L334.64,419.94 L335.46,420.01 L336.27,420.07 L337.09,420.13 L337.90,420.19 L338.72,420.25 L339.53,420.31 L340.35,420.37 L341.16,420.43 L341.97,420.49 L342.78,420.55 L343.59,420.61 L344.40,420.67 L345.21,420.73 L346.02,420.78 L346.83,420.84 L347.63,420.90 L348.44,420.95 L349.25,421.01 L350.05,421.06 L350.85,421.12 L351.65,421.17 L352.46,421.22 L353.26,421.28 L354.06,421.33 L354.85,421.38 L355.65,421.44 L356.45,421.49 L357.24,421.54 L358.04,421.59 L358.83,421.64 L359.63,421.70 L360.42,421.75 L361.21,421.80 L362.00,421.85 L362.79,421.90 L363.57,421.95 L364.36,422.00 L365.15,422.05 L365.93,422.10 L366.71,422.15 L367.49,422.20" stroke-dasharray="14 9.65"/>
<path d="M68.60,426.90 L69.19,426.85 L69.76,426.78 L70.32,426.70 L70.88,426.60 L71.42,426.48 L71.95,426.35 L72.48,426.20 L72.99,426.04 L73.50,425.86 L73.99,425.66 L74.48,425.46 L74.96,425.24 L75.42,425.00 L75.88,424.75 L76.33,424.49 L76.78,424.22 L77.21,423.94 L77.64,423.64 L78.06,423.33 L78.47,423.01 L78.87,422.68 L79.27,422.34 L79.66,421.99 L80.04,421.63 L80.41,421.26 L80.78,420.88 L81.14,420.49 L81.50,420.10 L81.84,419.69 L82.19,419.28 L82.52,418.86 L82.85,418.43 L83.18,418.00 L83.50,417.56 L83.81,417.12 L84.12,416.66 L84.42,416.21 L84.72,415.75 L85.02,415.28 L85.31,414.81 L85.59,414.33 L85.87,413.86 L86.15,413.37 L86.42,412.89 L86.69,412.40 L86.96,411.91 L87.22,411.42 L87.48,410.93 L87.74,410.43 L87.99,409.94 L88.24,409.44 L88.49,408.94 L88.73,408.44 L88.97,407.94 L89.21,407.44 L89.45,406.94 L89.68,406.43 L89.92,405.93 L90.15,405.42 L90.37,404.92 L90.60,404.41 L90.82,403.90 L91.04,403.39 L91.26,402.88 L91.48,402.37 L91.69,401.86 L91.91,401.35 L92.12,400.84 L92.33,400.33 L92.54,399.81 L92.75,399.30 L92.96,398.79 L93.16,398.27 L93.37,397.76 L93.57,397.25 L93.78,396.73 L93.98,396.22 L94.18,395.70 L94.38,395.19 L94.58,394.67 L94.78,394.16 L94.98,393.65 L95.18,393.13 L95.38,392.62 L95.58,392.11 L95.78,391.59 L95.98,391.08 L96.17,390.57 L96.37,390.06 L96.57,389.55 L96.77,389.04 L96.97,388.53 L97.18,388.02 L97.38,387.51 L97.58,387.01 L97.78,386.50 L97.99,385.99 L98.19,385.49 L98.40,384.99 L98.60,384.48 L98.81,383.98 L99.02,383.48 L99.23,382.98 L99.44,382.48 L99.66,381.99 L99.87,381.49 L100.09,381.00 L100.31,380.51 L100.53,380.01 L100.75,379.52 L100.98,379.04 L101.21,378.55 L101.43,378.07 L101.67,377.58 L101.90,377.10 L101.90,377.10 L102.13,376.33 L102.36,375.55 L102.58,374.78 L102.79,374.02 L103.00,373.25 L103.21,372.49 L103.41,371.73 L103.61,370.97 L103.81,370.22 L104.00,369.46 L104.19,368.71 L104.38,367.96 L104.56,367.21 L104.74,366.46 L104.93,365.72 L105.11,364.97 L105.29,364.23 L105.46,363.48 L105.64,362.74 L105.82,362.00 L106.00,361.26 L106.18,360.52 L106.36,359.78 L106.54,359.04 L106.72,358.30 L106.91,357.56 L107.09,356.83 L107.28,356.09 L107.47,355.35 L107.67,354.61 L107.87,353.87 L108.07,353.13 L108.27,352.39 L108.48,351.65 L108.69,350.91 L108.91,350.16 L109.13,349.42 L109.36,348.68 L109.59,347.93 L109.83,347.18 L110.08,346.43 L110.33,345.68 L110.59,344.93 L110.85,344.18 L111.12,343.42 L111.40,342.67 L111.69,341.91 L111.99,341.15 L112.29,340.38 L112.61,339.62 L112.93,338.85 L113.27,338.09 L113.61,337.33 L113.97,336.58 L114.34,335.83 L114.72,335.10 L115.11,334.38 L115.52,333.67 L115.95,332.98 L116.39,332.31 L116.85,331.66 L117.33,331.04 L117.83,330.44 L118.34,329.86 L118.88,329.32 L119.43,328.81 L120.00,328.33 L120.59,327.89 L121.20,327.48 L121.82,327.12 L122.45,326.79 L123.10,326.51 L123.75,326.27 L124.42,326.07 L125.09,325.92 L125.77,325.82 L126.46,325.77 L127.15,325.76 L127.85,325.79 L128.56,325.86 L129.26,325.97 L129.98,326.12 L130.70,326.29 L131.42,326.50 L132.14,326.73 L132.87,326.99 L133.60,327.27 L134.34,327.57 L135.08,327.89 L135.82,328.22 L136.56,328.56 L137.30,328.92 L138.05,329.28 L138.79,329.64 L139.54,330.01 L140.28,330.38 L141.03,330.75 L141.77,331.11 L142.52,331.47 L143.26,331.81 L144.01,332.15 L144.75,332.48 L145.49,332.79 L146.23,333.10 L146.97,333.41 L147.71,333.70 L148.45,333.99 L149.18,334.27 L149.92,334.54 L150.66,334.80 L151.39,335.07 L152.13,335.32 L152.87,335.57 L153.60,335.81 L154.34,336.05 L155.07,336.29 L155.80,336.52 L156.54,336.75 L157.27,336.97 L158.01,337.19 L158.74,337.41 L159.48,337.62 L160.22,337.84 L160.95,338.05 L161.69,338.26 L162.42,338.47 L163.16,338.68 L163.90,338.89 L164.64,339.10 L165.37,339.30 L166.11,339.51 L166.85,339.71 L167.59,339.92 L168.33,340.12 L169.07,340.32 L169.81,340.52 L170.55,340.72 L171.30,340.92 L172.04,341.12 L172.78,341.32 L173.52,341.52 L174.27,341.72 L175.01,341.91 L175.76,342.11 L176.50,342.30 L177.25,342.50 L177.99,342.69 L178.74,342.88 L179.48,343.08 L180.23,343.27 L180.98,343.46 L181.72,343.65 L182.47,343.84 L183.22,344.02 L183.97,344.21 L184.72,344.40 L185.47,344.58 L186.22,344.77 L186.97,344.95 L187.72,345.14 L188.47,345.32 L189.22,345.50 L189.97,345.69 L190.72,345.87 L191.48,346.05 L192.23,346.23 L192.98,346.41 L193.73,346.58 L194.49,346.76 L195.24,346.94 L196.00,347.12 L196.75,347.29 L197.51,347.47 L198.26,347.64 L199.02,347.81 L199.77,347.99 L200.53,348.16 L201.29,348.33 L202.04,348.50 L202.80,348.67 L203.56,348.84 L204.31,349.01 L205.07,349.18 L205.83,349.35 L206.59,349.52 L207.35,349.68 L208.11,349.85 L208.87,350.02 L209.63,350.18 L210.39,350.35 L211.15,350.51 L211.91,350.67 L212.67,350.84 L213.43,351.00 L214.19,351.16 L214.95,351.32 L215.72,351.48 L216.48,351.64 L217.24,351.80 L218.00,351.96 L218.77,352.12 L219.53,352.27 L220.29,352.43 L221.06,352.59 L221.82,352.74 L222.59,352.90 L223.35,353.05 L224.12,353.21 L224.88,353.36 L225.65,353.51 L226.41,353.67 L227.18,353.82 L227.94,353.97 L228.71,354.12 L229.47,354.27 L230.24,354.42 L231.01,354.57 L231.77,354.72 L232.54,354.87 L233.31,355.02 L234.08,355.16 L234.84,355.31 L235.61,355.46 L236.38,355.60 L237.15,355.75 L237.92,355.89 L238.69,356.04 L239.46,356.18 L240.22,356.33 L240.99,356.47 L241.76,356.61 L242.53,356.76 L243.30,356.90 L244.07,357.04 L244.84,357.18 L245.61,357.32 L246.38,357.46 L247.15,357.60 L247.92,357.74 L248.69,357.88 L249.47,358.02 L250.24,358.15 L251.01,358.29 L251.78,358.43 L252.55,358.57 L253.32,358.70 L254.09,358.84 L254.87,358.97 L255.64,359.11 L256.41,359.24 L257.18,359.38 L257.96,359.51 L258.73,359.64 L259.50,359.78 L260.27,359.91 L261.05,360.04 L261.82,360.17 L262.59,360.31 L263.37,360.44 L264.14,360.57 L264.91,360.70 L265.69,360.83 L266.46,360.96 L267.23,361.09 L268.01,361.22 L268.78,361.35 L269.55,361.47 L270.33,361.60 L271.10,361.73 L271.88,361.86 L272.65,361.98 L273.42,362.11 L274.20,362.24 L274.97,362.36 L275.75,362.49 L276.52,362.62 L277.30,362.74 L278.07,362.87 L278.84,362.99 L279.62,363.11 L280.39,363.24 L281.17,363.36 L281.94,363.49 L282.72,363.61 L283.49,363.73 L284.27,363.85 L285.04,363.98 L285.82,364.10 L286.59,364.22 L287.37,364.34 L288.14,364.46 L288.92,364.58 L289.69,364.70 L290.47,364.83 L291.24,364.95 L292.02,365.07 L292.79,365.19 L293.57,365.30 L294.34,365.42 L295.11,365.54 L295.89,365.66 L296.66,365.78 L297.44,365.90 L298.21,366.02 L298.99,366.14 L299.76,366.25 L300.54,366.37 L301.31,366.49 L302.09,366.61 L302.86,366.72 L303.64,366.84 L304.41,366.96 L305.18,367.07 L305.96,367.19 L306.73,367.30 L307.51,367.42 L308.28,367.54 L309.06,367.65 L309.83,367.77 L310.60,367.88 L311.38,368.00 L312.15,368.11 L312.92,368.23 L313.70,368.34 L314.47,368.46 L315.25,368.57 L316.02,368.69 L316.79,368.80 L317.57,368.91 L318.34,369.03 L319.11,369.14 L319.88,369.25 L320.66,369.37 L321.43,369.48 L322.20,369.59 L322.98,369.71 L323.75,369.82 L324.52,369.93 L325.29,370.05 L326.06,370.16 L326.84,370.27 L327.61,370.38 L328.38,370.50 L329.15,370.61 L329.92,370.72 L330.69,370.83 L331.46,370.95 L332.24,371.06 L333.01,371.17 L333.78,371.28 L334.55,371.39 L335.32,371.51 L336.09,371.62 L336.86,371.73 L337.63,371.84 L338.40,371.95 L339.17,372.06 L339.94,372.18 L340.71,372.29 L341.48,372.40 L342.24,372.51 L343.01,372.62 L343.78,372.73 L344.55,372.85 L345.32,372.96 L346.09,373.07 L346.85,373.18 L347.62,373.29 L348.39,373.40 L349.16,373.51 L349.92,373.63 L350.69,373.74 L351.46,373.85 L352.22,373.96 L352.99,374.07 L353.75,374.18 L354.52,374.30 L355.28,374.41 L356.05,374.52 L356.81,374.63 L357.58,374.74 L358.34,374.86 L359.11,374.97 L359.87,375.08 L360.64,375.19 L361.40,375.30 L362.16,375.42 L362.93,375.53 L363.69,375.64 L364.45,375.75 L365.21,375.87 L365.98,375.98 L366.74,376.09 L367.50,376.20"/>
</g>
<rect x="68.60" y="277.00" width="304.70" height="186.20" fill="none" stroke="#000" stroke-width="1.60"/>
<path d="M185.80,463.20V459.70M185.80,277.00V280.50M303.00,463.20V459.70M303.00,277.00V280.50M68.60,425.96H72.10M373.30,425.96H369.80M68.60,388.72H72.10M373.30,388.72H369.80M68.60,351.48H72.10M373.30,351.48H369.80M68.60,314.24H72.10M373.30,314.24H369.80" stroke="#000" stroke-width="1.60" fill="none"/>
<text class="tk" transform="translate(61.19,487.10) scale(1.250,1)" font-size="17.30">0</text>
<text class="tk" transform="translate(178.39,487.10) scale(1.250,1)" font-size="17.30">5</text>
<path transform="translate(289.58,487.10) scale(0.02162,-0.01730)" d="M359,0V703H296C284,650 253,613 198,596C170,588 135,585 101,585V520H271V0Z" fill="#000" stroke="#000" stroke-width="6.9" stroke-linejoin="round"/><text class="tk" transform="translate(301.60,487.10) scale(1.250,1)" font-size="17.30">0</text>
<text class="tk" transform="translate(44.68,469.50) scale(1.250,1)" font-size="17.30">0</text>
<path transform="translate(44.68,432.26) scale(0.02162,-0.01730)" d="M359,0V703H296C284,650 253,613 198,596C170,588 135,585 101,585V520H271V0Z" fill="#000" stroke="#000" stroke-width="6.9" stroke-linejoin="round"/>
<text class="tk" transform="translate(44.68,395.02) scale(1.250,1)" font-size="17.30">2</text>
<text class="tk" transform="translate(44.68,357.78) scale(1.250,1)" font-size="17.30">3</text>
<text class="tk" transform="translate(44.68,320.54) scale(1.250,1)" font-size="17.30">4</text>
<text class="tk" transform="translate(44.68,283.30) scale(1.250,1)" font-size="17.30">5</text>
<text transform="translate(123.00,512.70) scale(1.282,1)" font-size="19.75">t <tspan dy="2.30">=</tspan><tspan dy="-2.30"> Time, hours</tspan></text>
<g transform="translate(21.30,481.20) scale(1.250,1) rotate(-90)">
<text x="0" y="0" font-size="19.75">Y</text>
<text x="12.17" y="9.45" font-size="15.00">m</text>
<text x="33.37" y="0" font-size="19.75"><tspan dy="2.00">=</tspan><tspan dy="-2.00"> Muscle Glycogen</tspan></text>
</g>
<clipPath id="c3"><rect x="480.80" y="275.00" width="306.20" height="190.20"/></clipPath>
<g clip-path="url(#c3)" fill="none" stroke="#000" stroke-width="2.15" stroke-linejoin="round">
<path d="M480.80,307.90 L481.77,307.88 L482.67,307.97 L483.52,308.15 L484.31,308.41 L485.04,308.75 L485.73,309.17 L486.37,309.65 L486.97,310.18 L487.53,310.77 L488.06,311.40 L488.56,312.07 L489.04,312.77 L489.49,313.49 L489.92,314.22 L490.34,314.97 L490.74,315.72 L491.14,316.47 L491.52,317.23 L491.89,317.99 L492.25,318.76 L492.60,319.53 L492.94,320.30 L493.28,321.08 L493.60,321.85 L493.92,322.64 L494.23,323.42 L494.54,324.21 L494.84,324.99 L495.13,325.78 L495.42,326.58 L495.70,327.37 L495.98,328.17 L496.26,328.96 L496.53,329.76 L496.81,330.56 L497.08,331.36 L497.35,332.16 L497.62,332.96 L497.89,333.76 L498.16,334.56 L498.43,335.36 L498.70,336.16 L498.97,336.96 L499.25,337.76 L499.53,338.56 L499.81,339.36 L500.10,340.16 L500.39,340.95 L500.68,341.75 L500.97,342.55 L501.27,343.34 L501.56,344.13 L501.86,344.93 L502.17,345.72 L502.47,346.51 L502.78,347.30 L503.08,348.09 L503.39,348.88 L503.71,349.67 L504.02,350.46 L504.34,351.25 L504.66,352.04 L504.98,352.82 L505.30,353.61 L505.62,354.40 L505.94,355.18 L506.27,355.96 L506.60,356.75 L506.93,357.53 L507.26,358.31 L507.59,359.09 L507.92,359.88 L508.25,360.66 L508.59,361.44 L508.92,362.22 L509.26,362.99 L509.60,363.77 L509.94,364.55 L510.28,365.33 L510.62,366.10 L510.96,366.88 L511.30,367.66 L511.64,368.43 L511.98,369.20 L512.33,369.98 L512.67,370.75 L513.02,371.52 L513.36,372.30 L513.70,373.07 L514.05,373.84 L514.39,374.61 L514.74,375.38 L515.08,376.15 L515.43,376.92 L515.77,377.69 L516.12,378.45 L516.46,379.22 L516.80,379.99 L517.15,380.75 L517.49,381.52 L517.83,382.29 L518.18,383.05 L518.52,383.82 L518.86,384.58 L519.21,385.34 L519.56,386.10 L519.90,386.86 L520.25,387.62 L520.60,388.38 L520.96,389.14 L521.32,389.90 L521.68,390.65 L522.04,391.40 L522.41,392.16 L522.78,392.91 L523.16,393.66 L523.55,394.40 L523.93,395.15 L524.33,395.89 L524.73,396.63 L525.13,397.37 L525.55,398.11 L525.97,398.84 L526.40,399.58 L526.83,400.31 L527.27,401.03 L527.73,401.76 L528.19,402.48 L528.66,403.20 L529.14,403.92 L529.63,404.63 L530.12,405.34 L530.63,406.05 L531.15,406.76 L531.69,407.46 L532.23,408.16 L532.78,408.85 L533.35,409.55 L533.93,410.23 L534.52,410.91 L535.13,411.57 L535.74,412.21 L536.37,412.83 L537.02,413.41 L537.67,413.97 L538.34,414.48 L539.02,414.95 L539.71,415.37 L540.42,415.74 L541.14,416.05 L541.87,416.30 L542.61,416.48 L543.37,416.59 L544.14,416.62 L544.91,416.58 L545.69,416.47 L546.47,416.28 L547.24,416.02 L548.00,415.69 L548.75,415.30 L549.49,414.86 L550.20,414.36 L550.90,413.83 L551.58,413.26 L552.24,412.67 L552.87,412.06 L553.47,411.43 L554.05,410.78 L554.61,410.12 L555.14,409.45 L555.65,408.77 L556.14,408.08 L556.62,407.38 L557.08,406.67 L557.52,405.95 L557.96,405.22 L558.38,404.49 L558.79,403.75 L559.19,403.01 L559.59,402.26 L559.99,401.51 L560.38,400.76 L560.77,400.01 L561.16,399.25 L561.55,398.50 L561.94,397.75 L562.33,397.00 L562.72,396.24 L563.11,395.49 L563.50,394.74 L563.90,393.99 L564.29,393.24 L564.68,392.48 L565.07,391.73 L565.47,390.98 L565.86,390.23 L566.25,389.48 L566.64,388.72 L567.03,387.97 L567.43,387.22 L567.82,386.47 L568.21,385.71 L568.60,384.96 L568.99,384.21 L569.38,383.45 L569.76,382.70 L570.15,381.95 L570.54,381.19 L570.92,380.44 L571.31,379.69 L571.69,378.93 L572.07,378.18 L572.46,377.42 L572.84,376.67 L573.22,375.91 L573.59,375.16 L573.97,374.40 L574.34,373.65 L574.72,372.89 L575.09,372.14 L575.46,371.38 L575.83,370.62 L576.20,369.86 L576.56,369.11 L576.92,368.35 L577.29,367.59 L577.65,366.83 L578.01,366.07 L578.38,365.32 L578.74,364.56 L579.10,363.80 L579.46,363.05 L579.83,362.29 L580.20,361.53 L580.56,360.78 L580.93,360.03 L581.31,359.27 L581.68,358.52 L582.06,357.77 L582.44,357.02 L582.82,356.27 L583.21,355.52 L583.60,354.78 L583.99,354.03 L584.39,353.29 L584.80,352.55 L585.21,351.81 L585.62,351.07 L586.04,350.34 L586.47,349.61 L586.90,348.87 L587.34,348.15 L587.78,347.42 L588.23,346.70 L588.69,345.97 L589.15,345.26 L589.61,344.54 L590.09,343.83 L590.57,343.12 L591.05,342.41 L591.54,341.71 L592.04,341.01 L592.54,340.32 L593.05,339.63 L593.57,338.94 L594.09,338.26 L594.61,337.58 L595.14,336.91 L595.68,336.24 L596.22,335.57 L596.77,334.91 L597.33,334.26 L597.88,333.61 L598.45,332.96 L599.02,332.33 L599.60,331.69 L600.18,331.07 L600.76,330.44 L601.36,329.83 L601.95,329.22 L602.56,328.62 L603.16,328.02 L603.78,327.43 L604.40,326.85 L605.02,326.27 L605.65,325.70 L606.28,325.14 L606.92,324.58 L607.57,324.03 L608.22,323.49 L608.87,322.96 L609.53,322.43 L610.20,321.92 L610.87,321.41 L611.54,320.91 L612.23,320.41 L612.91,319.93 L613.60,319.45 L614.30,318.99 L615.00,318.53 L615.70,318.08 L616.41,317.64 L617.13,317.21 L617.85,316.79 L618.57,316.38 L619.30,315.97 L620.03,315.58 L620.77,315.20 L621.52,314.82 L622.26,314.46 L623.01,314.11 L623.77,313.76 L624.53,313.42 L625.30,313.10 L626.07,312.78 L626.84,312.47 L627.62,312.16 L628.40,311.87 L629.18,311.59 L629.97,311.31 L630.76,311.04 L631.56,310.78 L632.35,310.53 L633.16,310.28 L633.96,310.04 L634.77,309.81 L635.58,309.59 L636.40,309.37 L637.21,309.16 L638.03,308.96 L638.86,308.77 L639.68,308.58 L640.51,308.40 L641.34,308.22 L642.18,308.05 L643.01,307.89 L643.85,307.73 L644.69,307.58 L645.54,307.44 L646.38,307.30 L647.23,307.17 L648.08,307.04 L648.93,306.92 L649.78,306.80 L650.64,306.69 L651.49,306.58 L652.35,306.48 L653.21,306.38 L654.07,306.29 L654.93,306.20 L655.79,306.12 L656.66,306.04 L657.52,305.96 L658.39,305.89 L659.26,305.82 L660.12,305.76 L660.99,305.70 L661.86,305.65 L662.73,305.59 L663.60,305.54 L664.47,305.50 L665.34,305.46 L666.21,305.42 L667.09,305.38 L667.96,305.35 L668.83,305.31 L669.70,305.28 L670.57,305.26 L671.44,305.23 L672.31,305.21 L673.18,305.19 L674.05,305.17 L674.92,305.16 L675.79,305.14 L676.66,305.13 L677.53,305.12 L678.39,305.11 L679.26,305.10 L680.12,305.09 L680.99,305.08 L681.85,305.08 L682.71,305.07 L683.57,305.06 L684.43,305.06 L685.28,305.06 L686.14,305.05 L686.99,305.05 L687.84,305.04 L688.69,305.04 L689.54,305.04 L690.39,305.03 L691.24,305.03 L692.08,305.03 L692.92,305.02 L693.76,305.02 L694.60,305.02 L695.44,305.02 L696.28,305.01 L697.12,305.01 L697.95,305.01 L698.79,305.01 L699.62,305.01 L700.46,305.00 L701.29,305.00 L702.12,305.00 L702.95,305.00 L703.78,305.00 L704.60,305.00 L705.43,305.00 L706.26,305.00 L707.08,305.00 L707.91,305.00 L708.73,305.00 L709.55,305.00 L710.38,305.00 L711.20,305.00 L712.02,305.01 L712.84,305.01 L713.66,305.01 L714.48,305.01 L715.30,305.01 L716.12,305.02 L716.94,305.02 L717.76,305.02 L718.58,305.03 L719.40,305.03 L720.22,305.03 L721.03,305.04 L721.85,305.04 L722.67,305.04 L723.49,305.05 L724.31,305.05 L725.12,305.06 L725.94,305.06 L726.76,305.07 L727.58,305.07 L728.40,305.08 L729.21,305.09 L730.03,305.09 L730.85,305.10 L731.67,305.11 L732.49,305.11 L733.31,305.12 L734.13,305.13 L734.95,305.14 L735.78,305.15 L736.60,305.15 L737.42,305.16 L738.25,305.17 L739.07,305.18 L739.89,305.19 L740.72,305.20 L741.55,305.21 L742.37,305.22 L743.20,305.23 L744.03,305.24 L744.86,305.25 L745.69,305.26 L746.52,305.28 L747.35,305.29 L748.19,305.30 L749.02,305.31 L749.86,305.33 L750.70,305.34 L751.53,305.35 L752.37,305.37 L753.21,305.38 L754.06,305.40 L754.90,305.41 L755.74,305.42 L756.59,305.44 L757.44,305.46 L758.29,305.47 L759.14,305.49 L759.99,305.50 L760.84,305.52 L761.70,305.54 L762.56,305.56 L763.42,305.57 L764.28,305.59 L765.14,305.61 L766.00,305.63 L766.87,305.65 L767.74,305.67 L768.61,305.69 L769.48,305.71 L770.35,305.73 L771.23,305.75 L772.10,305.77 L772.98,305.79 L773.86,305.81 L774.75,305.84 L775.64,305.86 L776.52,305.88 L777.41,305.90 L778.31,305.93 L779.20,305.95 L780.10,305.98 L781.00,306.00" stroke-dasharray="14 9.65"/>
<path d="M480.80,307.90 L481.62,308.01 L482.39,308.18 L483.11,308.42 L483.77,308.71 L484.40,309.06 L484.98,309.46 L485.52,309.90 L486.03,310.39 L486.50,310.92 L486.95,311.48 L487.36,312.07 L487.75,312.69 L488.12,313.34 L488.47,314.00 L488.80,314.68 L489.12,315.37 L489.42,316.07 L489.72,316.78 L490.01,317.49 L490.29,318.20 L490.57,318.91 L490.84,319.63 L491.10,320.36 L491.36,321.08 L491.61,321.81 L491.85,322.55 L492.09,323.28 L492.32,324.02 L492.54,324.76 L492.77,325.50 L492.98,326.25 L493.20,327.00 L493.41,327.74 L493.61,328.49 L493.81,329.25 L494.01,330.00 L494.21,330.75 L494.40,331.51 L494.59,332.27 L494.78,333.02 L494.96,333.78 L495.15,334.54 L495.33,335.30 L495.51,336.06 L495.69,336.82 L495.87,337.58 L496.05,338.33 L496.23,339.09 L496.41,339.85 L496.59,340.60 L496.77,341.36 L496.95,342.11 L497.13,342.87 L497.31,343.62 L497.49,344.37 L497.68,345.13 L497.86,345.88 L498.04,346.63 L498.23,347.38 L498.41,348.13 L498.60,348.87 L498.78,349.62 L498.97,350.37 L499.16,351.11 L499.34,351.86 L499.53,352.61 L499.72,353.35 L499.91,354.09 L500.10,354.84 L500.30,355.58 L500.49,356.32 L500.68,357.06 L500.88,357.80 L501.08,358.55 L501.27,359.29 L501.47,360.03 L501.67,360.76 L501.87,361.50 L502.07,362.24 L502.27,362.98 L502.48,363.72 L502.68,364.45 L502.89,365.19 L503.10,365.92 L503.31,366.66 L503.52,367.39 L503.73,368.13 L503.94,368.86 L504.16,369.60 L504.37,370.33 L504.59,371.06 L504.81,371.79 L505.03,372.53 L505.25,373.26 L505.48,373.99 L505.70,374.72 L505.93,375.45 L506.16,376.18 L506.39,376.91 L506.62,377.64 L506.86,378.37 L507.09,379.10 L507.33,379.83 L507.57,380.56 L507.81,381.29 L508.05,382.02 L508.30,382.75 L508.55,383.47 L508.80,384.20 L509.05,384.93 L509.30,385.66 L509.56,386.38 L509.82,387.11 L510.08,387.84 L510.34,388.56 L510.60,389.29 L510.87,390.02 L511.14,390.74 L511.41,391.47 L511.68,392.20 L511.96,392.92 L512.24,393.65 L512.52,394.37 L512.80,395.10 L512.80,395.10 L513.42,395.84 L514.04,396.59 L514.64,397.35 L515.24,398.12 L515.83,398.89 L516.42,399.67 L517.00,400.46 L517.57,401.25 L518.14,402.05 L518.71,402.86 L519.26,403.67 L519.82,404.48 L520.37,405.30 L520.91,406.12 L521.45,406.95 L521.99,407.77 L522.52,408.61 L523.06,409.44 L523.58,410.27 L524.11,411.11 L524.64,411.95 L525.16,412.79 L525.68,413.63 L526.20,414.47 L526.72,415.31 L527.24,416.15 L527.76,416.98 L528.28,417.82 L528.80,418.65 L529.32,419.49 L529.84,420.32 L530.36,421.14 L530.89,421.97 L531.41,422.79 L531.94,423.60 L532.47,424.41 L533.00,425.22 L533.54,426.02 L534.08,426.82 L534.62,427.61 L535.17,428.40 L535.72,429.19 L536.27,429.97 L536.83,430.75 L537.39,431.53 L537.95,432.31 L538.52,433.09 L539.09,433.87 L539.66,434.66 L540.24,435.44 L540.82,436.23 L541.40,437.02 L541.99,437.81 L542.58,438.60 L543.18,439.41 L543.78,440.21 L544.38,441.02 L544.98,441.84 L545.60,442.67 L546.21,443.50 L546.83,444.34 L547.46,445.17 L548.10,445.99 L548.74,446.79 L549.40,447.58 L550.08,448.34 L550.77,449.07 L551.48,449.76 L552.21,450.40 L552.96,451.00 L553.73,451.54 L554.53,452.03 L555.36,452.45 L556.21,452.79 L557.08,453.05 L557.96,453.22 L558.84,453.28 L559.72,453.22 L560.59,453.04 L561.44,452.72 L562.26,452.28 L563.05,451.76 L563.79,451.17 L564.49,450.54 L565.16,449.87 L565.78,449.15 L566.37,448.40 L566.93,447.62 L567.46,446.80 L567.96,445.96 L568.44,445.09 L568.90,444.21 L569.34,443.30 L569.77,442.38 L570.18,441.45 L570.58,440.52 L570.97,439.58 L571.36,438.64 L571.75,437.69 L572.13,436.75 L572.51,435.82 L572.89,434.88 L573.27,433.94 L573.64,433.01 L574.01,432.08 L574.38,431.14 L574.75,430.21 L575.11,429.28 L575.48,428.36 L575.84,427.43 L576.20,426.50 L576.56,425.58 L576.92,424.66 L577.27,423.73 L577.63,422.81 L577.98,421.89 L578.33,420.97 L578.68,420.05 L579.04,419.14 L579.39,418.22 L579.74,417.31 L580.08,416.39 L580.43,415.48 L580.78,414.56 L581.13,413.65 L581.48,412.74 L581.82,411.83 L582.17,410.92 L582.52,410.02 L582.87,409.11 L583.22,408.20 L583.57,407.29 L583.92,406.39 L584.27,405.48 L584.62,404.58 L584.97,403.68 L585.32,402.78 L585.67,401.87 L586.03,400.97 L586.38,400.07 L586.74,399.17 L587.10,398.27 L587.46,397.37 L587.82,396.47 L588.18,395.58 L588.55,394.68 L588.92,393.78 L589.28,392.88 L589.65,391.99 L590.03,391.09 L590.40,390.20 L590.78,389.30 L591.16,388.41 L591.54,387.51 L591.93,386.62 L592.32,385.72 L592.71,384.83 L593.10,383.94 L593.50,383.04 L593.90,382.15 L594.30,381.26 L594.71,380.36 L595.11,379.47 L595.53,378.58 L595.94,377.69 L596.37,376.80 L596.79,375.91 L597.22,375.02 L597.65,374.13 L598.08,373.24 L598.52,372.35 L598.97,371.47 L599.42,370.59 L599.87,369.71 L600.33,368.83 L600.79,367.95 L601.25,367.07 L601.72,366.20 L602.20,365.33 L602.68,364.47 L603.16,363.60 L603.65,362.74 L604.15,361.88 L604.65,361.03 L605.15,360.17 L605.66,359.33 L606.18,358.48 L606.70,357.64 L607.23,356.81 L607.76,355.97 L608.30,355.15 L608.84,354.32 L609.39,353.50 L609.95,352.69 L610.51,351.88 L611.08,351.08 L611.65,350.28 L612.23,349.49 L612.82,348.70 L613.41,347.92 L614.01,347.14 L614.62,346.37 L615.23,345.61 L615.85,344.85 L616.47,344.10 L617.11,343.35 L617.75,342.62 L618.40,341.89 L619.05,341.16 L619.71,340.45 L620.38,339.74 L621.06,339.03 L621.74,338.34 L622.43,337.65 L623.13,336.98 L623.84,336.31 L624.55,335.64 L625.27,334.99 L626.00,334.34 L626.74,333.71 L627.48,333.08 L628.24,332.46 L628.99,331.84 L629.76,331.24 L630.53,330.64 L631.31,330.06 L632.10,329.48 L632.89,328.91 L633.69,328.34 L634.49,327.79 L635.30,327.24 L636.12,326.70 L636.94,326.17 L637.77,325.65 L638.60,325.14 L639.44,324.63 L640.28,324.13 L641.13,323.65 L641.99,323.17 L642.85,322.69 L643.71,322.23 L644.58,321.77 L645.45,321.33 L646.33,320.89 L647.21,320.46 L648.10,320.03 L648.99,319.62 L649.89,319.21 L650.78,318.82 L651.69,318.43 L652.59,318.05 L653.50,317.67 L654.42,317.31 L655.33,316.95 L656.25,316.61 L657.17,316.27 L658.10,315.94 L659.03,315.61 L659.96,315.30 L660.89,314.99 L661.83,314.69 L662.77,314.41 L663.71,314.12 L664.65,313.85 L665.59,313.59 L666.54,313.33 L667.49,313.08 L668.44,312.84 L669.39,312.60 L670.35,312.38 L671.31,312.16 L672.26,311.94 L673.22,311.74 L674.18,311.54 L675.15,311.34 L676.11,311.16 L677.08,310.98 L678.05,310.80 L679.02,310.64 L679.99,310.47 L680.96,310.32 L681.93,310.17 L682.91,310.02 L683.88,309.88 L684.86,309.75 L685.84,309.62 L686.82,309.49 L687.80,309.37 L688.78,309.26 L689.76,309.15 L690.74,309.04 L691.72,308.94 L692.71,308.84 L693.69,308.75 L694.68,308.65 L695.66,308.57 L696.65,308.48 L697.64,308.40 L698.62,308.33 L699.61,308.25 L700.60,308.18 L701.59,308.11 L702.58,308.05 L703.57,307.99 L704.55,307.93 L705.54,307.87 L706.53,307.81 L707.52,307.76 L708.51,307.71 L709.50,307.65 L710.49,307.61 L711.48,307.56 L712.46,307.51 L713.45,307.47 L714.44,307.42 L715.43,307.38 L716.41,307.33 L717.40,307.29 L718.39,307.25 L719.37,307.21 L720.35,307.17 L721.34,307.13 L722.32,307.08 L723.30,307.04 L724.28,307.00 L725.26,306.96 L726.24,306.91 L727.22,306.87 L728.20,306.82 L729.18,306.78 L730.15,306.73 L731.13,306.69 L732.10,306.64 L733.07,306.59 L734.05,306.55 L735.02,306.50 L735.99,306.45 L736.96,306.41 L737.94,306.36 L738.91,306.31 L739.88,306.27 L740.85,306.23 L741.82,306.18 L742.79,306.14 L743.76,306.10 L744.73,306.05 L745.70,306.01 L746.67,305.97 L747.64,305.94 L748.60,305.90 L749.57,305.86 L750.55,305.83 L751.52,305.80 L752.49,305.77 L753.46,305.74 L754.43,305.71 L755.40,305.69 L756.37,305.66 L757.35,305.64 L758.32,305.62 L759.30,305.61 L760.27,305.59 L761.25,305.58 L762.22,305.57 L763.20,305.56 L764.18,305.56 L765.16,305.56 L766.14,305.56 L767.12,305.57 L768.10,305.57 L769.09,305.58 L770.07,305.60 L771.06,305.62 L772.05,305.64 L773.04,305.66 L774.03,305.69 L775.02,305.72 L776.01,305.76 L777.01,305.80 L778.00,305.84 L779.00,305.89 L780.00,305.94 L781.00,306.00"/>
</g>
<rect x="480.80" y="277.00" width="306.20" height="186.20" fill="none" stroke="#000" stroke-width="1.60"/>
<path d="M598.55,463.20V459.70M598.55,277.00V280.50M716.30,463.20V459.70M716.30,277.00V280.50M480.80,432.17H484.30M787.00,432.17H783.50M480.80,370.10H484.30M787.00,370.10H783.50M480.80,308.03H484.30M787.00,308.03H783.50" stroke="#000" stroke-width="1.60" fill="none"/>
<text class="tk" transform="translate(473.39,487.10) scale(1.250,1)" font-size="17.30">0</text>
<text class="tk" transform="translate(591.14,487.10) scale(1.250,1)" font-size="17.30">5</text>
<path transform="translate(702.88,487.10) scale(0.02162,-0.01730)" d="M359,0V703H296C284,650 253,613 198,596C170,588 135,585 101,585V520H271V0Z" fill="#000" stroke="#000" stroke-width="6.9" stroke-linejoin="round"/><text class="tk" transform="translate(714.90,487.10) scale(1.250,1)" font-size="17.30">0</text>
<text class="tk" transform="translate(436.64,438.47) scale(1.250,1)" font-size="17.30">0</text><text class="tk" transform="translate(448.66,438.47) scale(1.250,1)" font-size="17.30">.</text><text class="tk" transform="translate(454.68,438.47) scale(1.250,1)" font-size="17.30">6</text>
<text class="tk" transform="translate(436.64,376.40) scale(1.250,1)" font-size="17.30">0</text><text class="tk" transform="translate(448.66,376.40) scale(1.250,1)" font-size="17.30">.</text><text class="tk" transform="translate(454.68,376.40) scale(1.250,1)" font-size="17.30">8</text>
<path transform="translate(455.98,314.33) scale(0.02162,-0.01730)" d="M359,0V703H296C284,650 253,613 198,596C170,588 135,585 101,585V520H271V0Z" fill="#000" stroke="#000" stroke-width="6.9" stroke-linejoin="round"/>
<text transform="translate(536.10,512.70) scale(1.282,1)" font-size="19.75">t <tspan dy="2.30">=</tspan><tspan dy="-2.30"> Time, hours</tspan></text>
<g transform="translate(413.40,455.30) scale(1.250,1) rotate(-90)">
<text x="0" y="0" font-size="19.75">T</text>
<text x="12.06" y="9.45" font-size="15.00">m</text>
<text x="32.26" y="0" font-size="19.75"><tspan dy="2.00">=</tspan><tspan dy="-2.00"> Muscle TAG</tspan></text>
</g>
</svg></body></html>
